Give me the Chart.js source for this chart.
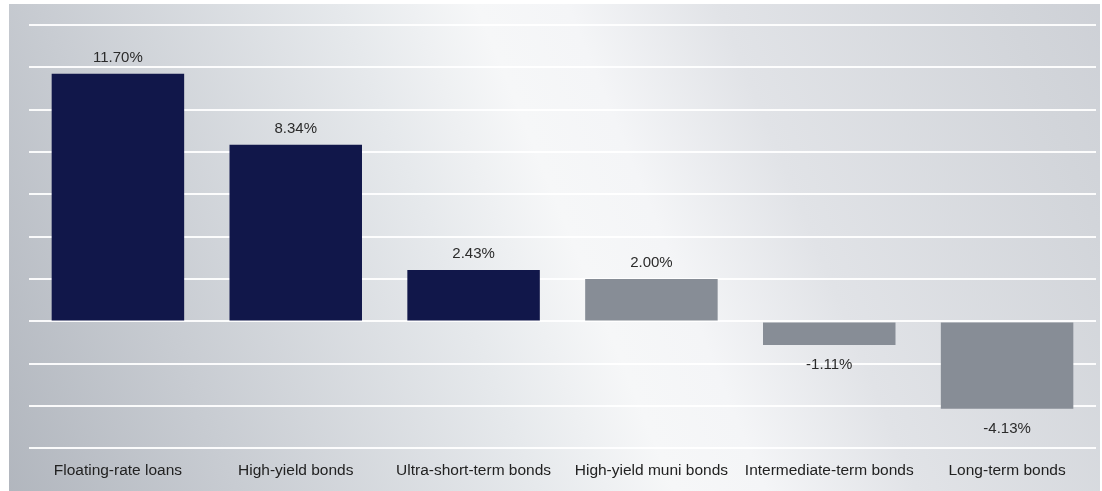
<!DOCTYPE html>
<html>
<head>
<meta charset="utf-8">
<script src="https://cdn.jsdelivr.net/npm/chart.js@4.4.1/dist/chart.umd.min.js"></script>
<style>
  html, body { margin: 0; padding: 0; background: #ffffff; }
  #wrap { width: 1102px; height: 491px; position: relative; }
</style>
</head>
<body>
<div id="wrap"><canvas id="c" width="1102" height="491"></canvas></div>
<script>
const categories = ["Floating-rate loans", "High-yield bonds", "Ultra-short-term bonds", "High-yield muni bonds", "Intermediate-term bonds", "Long-term bonds"];
const returns = [11.70, 8.34, 2.43, 2.00, -1.11, -4.13];
const valueLabels = ["11.70%", "8.34%", "2.43%", "2.00%", "-1.11%", "-4.13%"];
const barColors = ["#11174a", "#11174a", "#11174a", "#878d96", "#878d96", "#878d96"];

const backgroundPlugin = {
  id: 'bg',
  beforeDraw(chart) {
    const ctx = chart.ctx;
    ctx.save();
    const g = ctx.createLinearGradient(-28, 509, 1268, -19);
    g.addColorStop(0.00, '#adb2ba');
    g.addColorStop(0.18, '#c8ccd2');
    g.addColorStop(0.38, '#e6e9ec');
    g.addColorStop(0.47, '#f6f7f8');
    g.addColorStop(0.53, '#f4f5f7');
    g.addColorStop(0.63, '#e1e3e7');
    g.addColorStop(0.82, '#d2d5da');
    g.addColorStop(1.00, '#c6c9d0');
    ctx.fillStyle = g;
    ctx.fillRect(9, 4, 1091, 487);
    ctx.restore();
  }
};

const labelPlugin = {
  id: 'valueLabels',
  afterDatasetsDraw(chart) {
    const ctx = chart.ctx;
    const meta = chart.getDatasetMeta(0);
    ctx.save();
    ctx.font = '15px "Liberation Sans", Arial, sans-serif';
    ctx.fillStyle = '#2b2b2b';
    ctx.textAlign = 'center';
    ctx.textBaseline = 'middle';
    meta.data.forEach((bar, i) => {
      const v = returns[i];
      if (v >= 0) {
        ctx.fillText(valueLabels[i], bar.x, bar.y - 16);
      } else {
        ctx.fillText(valueLabels[i], bar.x, bar.y + 20);
      }
    });
    ctx.restore();
  }
};

new Chart(document.getElementById('c'), {
  type: 'bar',
  data: {
    labels: categories,
    datasets: [{
      data: returns,
      backgroundColor: barColors,
      borderWidth: 0,
      categoryPercentage: 1.0,
      barPercentage: 0.745
    }]
  },
  options: {
    responsive: false,
    animation: false,
    events: [],
    layout: { padding: { left: 29, right: 6, top: 25, bottom: 6 } },
    plugins: { legend: { display: false }, tooltip: { enabled: false } },
    scales: {
      x: {
        grid: { display: false },
        border: { display: false },
        ticks: {
          padding: 5,
          color: '#222222',
          font: { size: 15.5, family: '"Liberation Sans", Arial, sans-serif' },
          maxRotation: 0,
          autoSkip: false
        }
      },
      y: {
        min: -6,
        max: 14,
        ticks: { display: false, stepSize: 2 },
        grid: { color: 'rgba(255,255,255,0.92)', lineWidth: 2, drawTicks: false },
        border: { display: false }
      }
    }
  },
  plugins: [backgroundPlugin, labelPlugin]
});
</script>
</body>
</html>
